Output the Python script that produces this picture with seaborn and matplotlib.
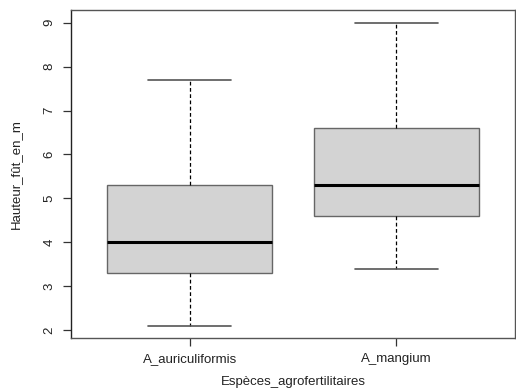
import matplotlib
matplotlib.use("Agg")
import matplotlib.pyplot as plt
import seaborn as sns
import pandas as pd

# summary points: min, Q1, median, Q3, max
auriculiformis = [2.1, 3.3, 4.0, 5.3, 7.7]
mangium = [3.4, 4.6, 5.3, 6.6, 9.0]
especes = ["A_auriculiformis", "A_mangium"]

df = pd.DataFrame({
    "Espèces_agrofertilitaires": [especes[0]] * len(auriculiformis) + [especes[1]] * len(mangium),
    "Hauteur_fût_en_m": auriculiformis + mangium,
})

sns.set_style("white")
plt.rcParams["font.family"] = ["Liberation Sans", "DejaVu Sans"]

fig = plt.figure(figsize=(5.16, 3.91), dpi=100)
ax = fig.add_axes([0.1376, 0.1355, 0.8604, 0.8389])

sns.boxplot(data=df, x="Espèces_agrofertilitaires", y="Hauteur_fût_en_m",
            order=especes, color="#d3d3d3", width=0.8, whis=1.5,
            linecolor="#666666", linewidth=1, fliersize=0,
            medianprops=dict(color="black", linewidth=2.2),
            whiskerprops=dict(color="black", linestyle=(0, (3, 2)), linewidth=0.9),
            capprops=dict(color="#555555", linewidth=1.2),
            capwidths=0.4, ax=ax)

# make the fill opaque light grey like R
for patch in ax.patches:
    patch.set_facecolor("#d3d3d3")
    patch.set_alpha(1)

ax.set_xlim(-0.575, 1.575)
ax.set_ylim(1.82, 9.29)
ax.set_yticks(range(2, 10))
ax.set_yticklabels([str(v) for v in range(2, 10)], rotation=90, va="center")

for s in ax.spines.values():
    s.set_visible(True)
    s.set_color("#555555")
    s.set_linewidth(1)
ax.spines["left"].set_color("#222222")

ax.tick_params(axis="both", direction="out", length=6, width=0.9, color="#333333",
               labelsize=9.5, labelcolor="#222222", left=True, bottom=True)
ax.tick_params(axis="y", pad=5)
ax.tick_params(axis="x", pad=5)

ax.set_xlabel("Espèces_agrofertilitaires", fontsize=9.5, color="#222222", labelpad=8)
ax.set_ylabel("Hauteur_fût_en_m", fontsize=9.5, color="#222222", labelpad=16)

fig.savefig("out.png", dpi=100)
